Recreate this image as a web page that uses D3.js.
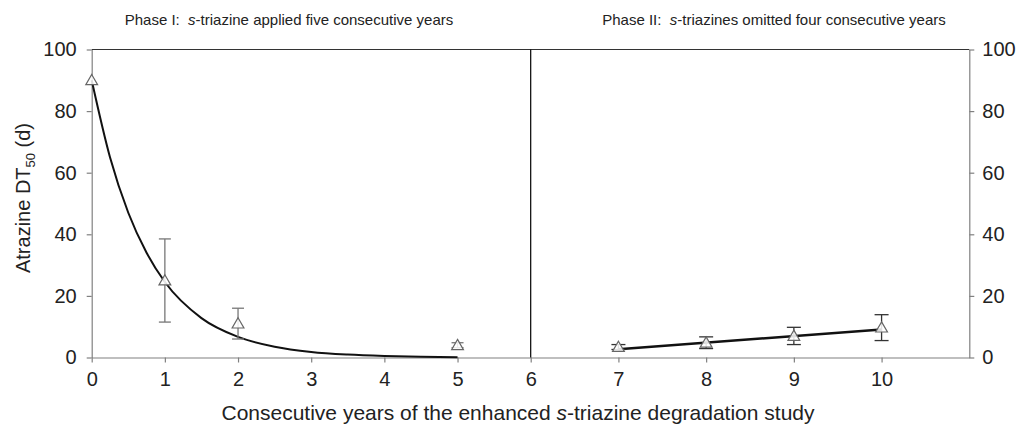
<!doctype html>
<html>
<head>
<meta charset="utf-8" />
<script src="https://cdn.jsdelivr.net/npm/d3@7"></script>
<style>
  body { margin: 0; background: #fff; }
  svg text { font-family: "Liberation Sans", Arial, sans-serif; fill: #222; }
</style>
</head>
<body>
<svg id="chart" width="1016" height="432"></svg>
<script>
// phase I: s-triazine applied
var phase1Years = [0, 1, 2, 5];
var phase1DT50 = [90, 25, 11, 4];
var phase1Err = [0, 13.5, 5, 0.8];

// phase II: s-triazines omitted
var phase2Years = [7, 8, 9, 10];
var phase2DT50 = [3.4, 4.8, 7, 9.7];
var phase2Err = [0.8, 1.9, 2.8, 4.2];

// fitted decay curve
var curveYears = [0, 0.25, 0.5, 0.75, 1, 1.5, 2, 2.5, 3, 3.5, 4, 4.5, 5];
var curveDT50 = [90, 65, 47, 34, 24.5, 12.8, 6.7, 3.5, 1.8, 0.95, 0.5, 0.25, 0.1];

// phase II trend line
var trendYears = [7, 10];
var trendDT50 = [2.7, 9.1];

var yTicks = [0, 20, 40, 60, 80, 100];
var xTicksLeft = [0, 1, 2, 3, 4, 5, 6];
var xTicksRight = [7, 8, 9, 10];

var svg = d3.select("#chart");
var axisGray = "#808080";
var fmt = d3.format("d");

var xL = d3.scaleLinear().domain([0, 6]).range([91.7, 530.7]);
var xR = d3.scaleLinear().domain([6, 11]).range([530.7, 969.3]);
var y = d3.scaleLinear().domain([0, 100]).range([357.5, 49.5]);

// top border
svg.append("line")
  .attr("x1", xL(0)).attr("x2", xR(11))
  .attr("y1", y(100)).attr("y2", y(100))
  .attr("stroke", "#333").attr("stroke-width", 1.2);

// left y axis
var gl = svg.append("g").attr("transform", "translate(" + xL(0) + ",0)")
  .call(d3.axisLeft(y).tickValues(yTicks).tickFormat(fmt).tickSize(5).tickSizeOuter(0).tickPadding(10));
// right y axis
var gr = svg.append("g").attr("transform", "translate(" + xR(11) + ",0)")
  .call(d3.axisRight(y).tickValues(yTicks).tickFormat(fmt).tickSize(5).tickSizeOuter(0).tickPadding(8));
// bottom axes
var gb1 = svg.append("g").attr("transform", "translate(0," + y(0) + ")")
  .call(d3.axisBottom(xL).tickValues(xTicksLeft).tickFormat(fmt).tickSize(5).tickSizeOuter(0).tickPadding(9));
var gb2 = svg.append("g").attr("transform", "translate(0," + y(0) + ")")
  .call(d3.axisBottom(xR).tickValues(xTicksRight).tickFormat(fmt).tickSize(5).tickSizeOuter(0).tickPadding(9));

[gl, gr, gb1, gb2].forEach(function (g) {
  g.selectAll("path, line").attr("stroke", axisGray).attr("stroke-width", 1.2);
  g.selectAll("text").attr("font-size", 20).attr("fill", "#1a1a1a")
    .attr("font-family", "Liberation Sans, Arial, sans-serif");
});

// divider between phases
svg.append("line")
  .attr("x1", xL(6)).attr("x2", xL(6))
  .attr("y1", y(100)).attr("y2", y(0))
  .attr("stroke", "#000").attr("stroke-width", 1.2);

// fitted curve
var curveLine = d3.line()
  .x(function (d) { return xL(d[0]); })
  .y(function (d) { return y(d[1]); })
  .curve(d3.curveMonotoneX);
svg.append("path")
  .datum(d3.zip(curveYears, curveDT50))
  .attr("d", curveLine)
  .attr("fill", "none").attr("stroke", "#111").attr("stroke-width", 2);

// trend line
var trendLine = d3.line()
  .x(function (d) { return xR(d[0]); })
  .y(function (d) { return y(d[1]); });
svg.append("path")
  .datum(d3.zip(trendYears, trendDT50))
  .attr("d", trendLine)
  .attr("fill", "none").attr("stroke", "#111").attr("stroke-width", 2.5);

var tri = d3.symbol().type(d3.symbolTriangle).size(60);

function drawPoints(xs, vals, errs, xScale, errColor, capW) {
  var pts = d3.zip(xs, vals, errs);
  var eb = svg.append("g");
  pts.filter(function (d) { return d[2] > 0; }).forEach(function (d) {
    var cx = xScale(d[0]);
    var yt = y(d[1] + d[2]), yb = y(d[1] - d[2]);
    eb.append("line").attr("x1", cx).attr("x2", cx).attr("y1", yt).attr("y2", yb)
      .attr("stroke", errColor).attr("stroke-width", 1.3);
    [yt, yb].forEach(function (yy) {
      eb.append("line").attr("x1", cx - capW / 2).attr("x2", cx + capW / 2)
        .attr("y1", yy).attr("y2", yy)
        .attr("stroke", errColor).attr("stroke-width", 1.3);
    });
  });
  svg.append("g").selectAll("path").data(pts).join("path")
    .attr("d", tri)
    .attr("transform", function (d) { return "translate(" + xScale(d[0]) + "," + (y(d[1]) + 1) + ")"; })
    .attr("fill", "#fff").attr("fill-opacity", 0.85)
    .attr("stroke", "#666").attr("stroke-width", 1.2);
}

drawPoints(phase1Years, phase1DT50, phase1Err, xL, "#777", 12);
drawPoints(phase2Years, phase2DT50, phase2Err, xR, "#333", 14);

// phase titles
svg.append("text").attr("x", 289).attr("y", 25).attr("text-anchor", "middle")
  .attr("font-size", 15)
  .html('Phase I:&#160; <tspan font-style="italic">s</tspan>-triazine applied five consecutive years');
svg.append("text").attr("x", 774).attr("y", 25).attr("text-anchor", "middle")
  .attr("font-size", 15)
  .html('Phase II:&#160; <tspan font-style="italic">s</tspan>-triazines omitted four consecutive years');

// x axis title
svg.append("text").attr("x", 518).attr("y", 420).attr("text-anchor", "middle")
  .attr("font-size", 21)
  .html('Consecutive years of the enhanced <tspan font-style="italic">s</tspan>-triazine degradation study');

// y axis title
svg.append("text")
  .attr("transform", "translate(30,198) rotate(-90)")
  .attr("text-anchor", "middle")
  .attr("font-size", 20)
  .html('Atrazine DT<tspan font-size="13" dy="5">50</tspan><tspan dy="-5"> (d)</tspan>');
</script>
</body>
</html>
